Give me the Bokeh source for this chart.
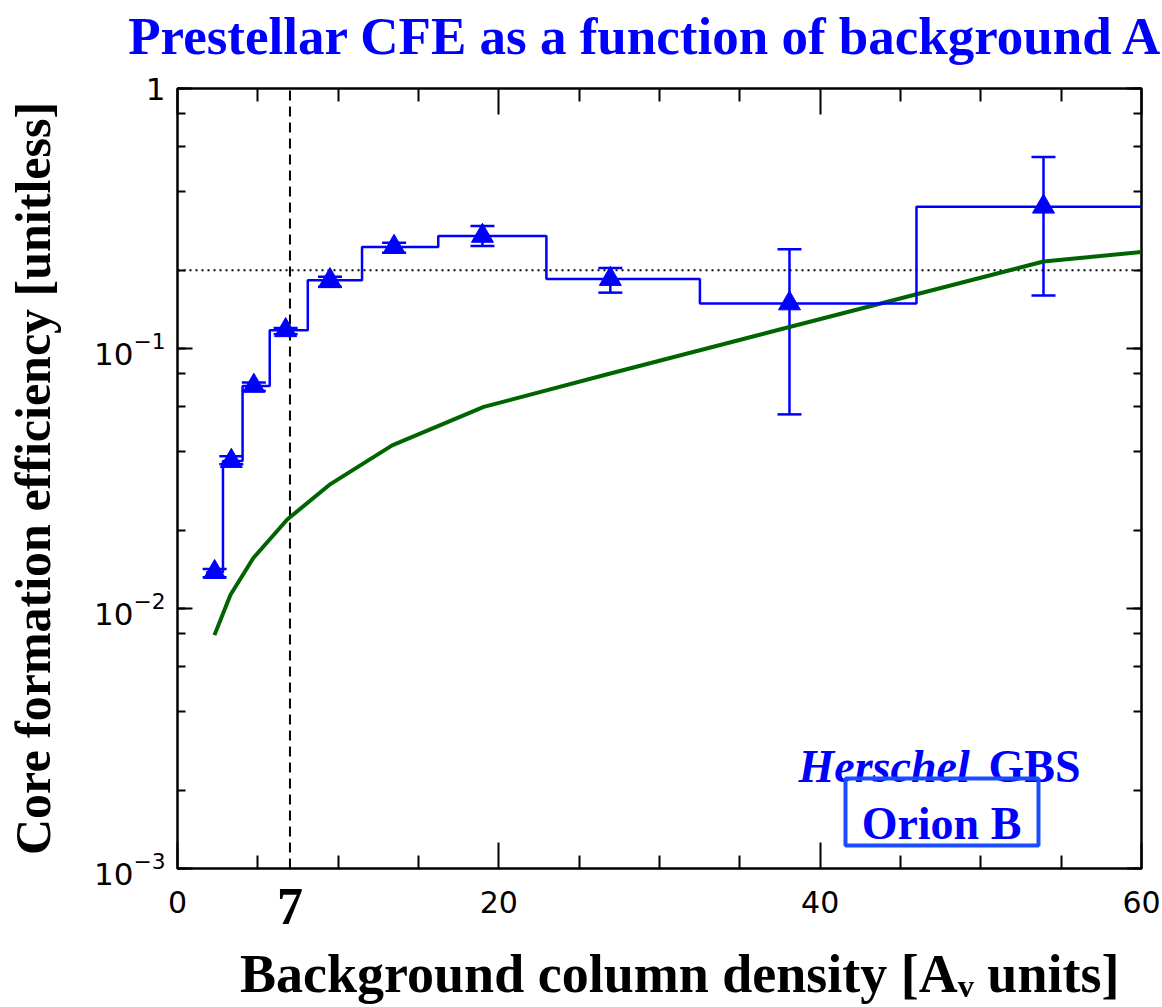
import math
from bokeh.plotting import figure
from bokeh.models import (Label, Whisker, TeeHead, ColumnDataSource, FixedTicker,
                          LinearAxis, LogAxis, LogTicker, BoxAnnotation,
                          CustomJSTickFormatter, LogTickFormatter)
from bokeh.embed import file_html
from bokeh.resources import INLINE

# ---------------- data ----------------
av_bin = [2.31, 3.35, 4.75, 6.73, 9.49, 13.48, 18.98, 26.94, 38.09, 53.9]
cfe = [0.0138, 0.0369, 0.0718, 0.1175, 0.183, 0.2457, 0.271, 0.185, 0.149, 0.351]
cfe_hi = [0.0142, 0.0385, 0.0740, 0.1199, 0.1888, 0.255, 0.296, 0.204, 0.241, 0.545]
cfe_lo = [0.0132, 0.0359, 0.0687, 0.1135, 0.1726, 0.2335, 0.248, 0.164, 0.0558, 0.160]

model_av = [2.30, 3.30, 4.71, 6.83, 9.52, 13.36, 19.06, 26.94, 38.09, 53.9, 60.0]
model_cfe = [0.0079, 0.0113, 0.0156, 0.0220, 0.0301, 0.0424, 0.0596, 0.0801, 0.121, 0.216, 0.235]

x_ticks = [0, 20, 40, 60]
x_minor = [5, 10, 15, 25, 30, 35, 45, 50, 55]
threshold_av = 7
ref_cfe = 0.2

BLUE = "#0000ff"
GREEN = "#006400"
SERIF = "Liberation Serif"
SANS = "DejaVu Sans"
NBSP = "\u00a0"

W, H = 1162, 1007
FL, FR, FT, FB = 177, 1141, 88, 868


def X(px):
    return (px - FL) / (FR - FL) * 60.0


def Y(py):
    return 10 ** (-(py - FT) / ((FB - FT) / 3.0))


p = figure(width=W, height=H, x_range=(0, 60), y_range=(1e-3, 1),
           y_axis_type="log", output_backend="svg", toolbar_location=None,
           min_border_left=FL, min_border_right=W - FR,
           min_border_top=FT, min_border_bottom=H - FB)
p.background_fill_color = "white"
p.border_fill_color = "white"
p.outline_line_color = "black"
p.outline_line_width = 2.5
p.grid.visible = False

# ---- bottom axis: 0 / 20 / 40 / 60
xa = p.xaxis[0]
xa.ticker = FixedTicker(ticks=x_ticks, minor_ticks=x_minor)
xa.axis_line_color = None
xa.major_tick_in = 26
xa.major_tick_out = 0
xa.minor_tick_in = 13
xa.minor_tick_out = 0
xa.major_tick_line_width = 2
xa.minor_tick_line_width = 2
xa.major_label_text_font = SANS
xa.major_label_text_font_size = "30px"
xa.major_label_text_color = "black"
xa.major_label_standoff = 22

# ---- second bottom axis: the threshold label "7" and the axis title
xb = LinearAxis(ticker=FixedTicker(ticks=[threshold_av], minor_ticks=[]),
                axis_line_color=None, major_tick_in=0, major_tick_out=0,
                minor_tick_in=0, minor_tick_out=0,
                major_label_text_font=SERIF, major_label_text_font_style="bold",
                major_label_text_font_size="52px", major_label_text_color="black",
                major_label_standoff=-27,
                axis_label=NBSP * 3 + "Background column density [A\u1d65 units]",
                axis_label_text_font=SERIF, axis_label_text_font_style="bold",
                axis_label_text_font_size="54px", axis_label_text_color="black",
                axis_label_standoff=17)
p.add_layout(xb, "below")

# ---- top axis (ticks) carrying the blue title as its label
ta = LinearAxis(ticker=FixedTicker(ticks=x_ticks, minor_ticks=x_minor),
                formatter=CustomJSTickFormatter(code="return ''"),
                axis_line_color=None, major_tick_in=26, major_tick_out=0,
                minor_tick_in=13, minor_tick_out=0, major_tick_line_width=2,
                minor_tick_line_width=2, major_label_standoff=0,
                major_label_text_font_size="1px",
                axis_label="Prestellar CFE as a function of background A" + NBSP * 2,
                axis_label_text_font=SERIF, axis_label_text_font_style="bold",
                axis_label_text_font_size="53px", axis_label_text_color=BLUE,
                axis_label_standoff=24)
p.add_layout(ta, "above")

# ---- left axis with powers of ten
ya = p.yaxis[0]
ya.ticker = LogTicker()
ya.formatter = LogTickFormatter()
ya.major_label_overrides = {1: "1"}
ya.axis_line_color = None
ya.major_tick_in = 15
ya.major_tick_out = 0
ya.minor_tick_in = 8
ya.minor_tick_out = 0
ya.major_tick_line_width = 2
ya.minor_tick_line_width = 2
ya.major_label_text_font = SANS
ya.major_label_text_font_size = "31px"
ya.major_label_text_color = "black"
ya.major_label_standoff = 12
ya.axis_label = "Core formation efficiency [unitless]"
ya.axis_label_text_font = SERIF
ya.axis_label_text_font_style = "bold"
ya.axis_label_text_font_size = "50px"
ya.axis_label_text_color = "black"
ya.axis_label_standoff = 30

# ---- right axis (ticks only)
ra = LogAxis(ticker=LogTicker(), formatter=CustomJSTickFormatter(code="return ''"),
             axis_line_color=None, major_tick_in=15,
             major_tick_out=0, minor_tick_in=8, minor_tick_out=0,
             major_tick_line_width=2, minor_tick_line_width=2,
             major_label_standoff=0, major_label_text_font_size="1px")
p.add_layout(ra, "right")

# reference lines
p.segment(x0=[0], x1=[60], y0=[ref_cfe], y1=[ref_cfe], line_color="black",
          line_width=2, line_dash="2 4")
p.segment(x0=[threshold_av], x1=[threshold_av], y0=[1e-3], y1=[1], line_color="black",
          line_width=2, line_dash="10 6")

# model curve
p.line(model_av, model_cfe, line_color=GREEN, line_width=4)

# histogram-style step line (steps centred on the points)
edges = [av_bin[0] - (av_bin[1] - av_bin[0]) / 2]
for a, b in zip(av_bin[:-1], av_bin[1:]):
    edges.append((a + b) / 2)
edges.append(av_bin[-1] + (av_bin[-1] - av_bin[-2]) / 2)
sx, sy = [], []
for i, v in enumerate(cfe):
    sx += [edges[i], edges[i + 1]]
    sy += [v, v]
p.line(sx, sy, line_color=BLUE, line_width=2.5)

# error bars and points
src = ColumnDataSource(dict(x=av_bin, y=cfe, hi=cfe_hi, lo=cfe_lo))
p.add_layout(Whisker(source=src, base="x", upper="hi", lower="lo", dimension="height",
                     line_color=BLUE, line_width=2.5,
                     upper_head=TeeHead(size=24, line_color=BLUE, line_width=2.5),
                     lower_head=TeeHead(size=24, line_color=BLUE, line_width=2.5)))
p.scatter("x", "y", source=src, marker="triangle", size=22,
          fill_color=BLUE, line_color=BLUE)


def lab(text, px, py, size, style="bold", color=BLUE, align="left"):
    p.add_layout(Label(x=X(px), y=Y(py), text=text, text_font=SERIF,
                       text_font_style=style, text_font_size=f"{size}px",
                       text_color=color, text_align=align,
                       text_baseline="alphabetic"))


# survey annotation (inside the frame)
lab("Herschel", 798, 766, 46, style="bold italic")
lab("GBS", 988, 766, 46)
lab("Orion B", 941, 823, 46, align="center")
p.add_layout(BoxAnnotation(left=X(845), right=X(1038), top=Y(778), bottom=Y(845),
                           fill_alpha=0, line_color="#1a4dff", line_alpha=1.0,
                           line_width=4))

open("out.html", "w").write(file_html(p, INLINE))
